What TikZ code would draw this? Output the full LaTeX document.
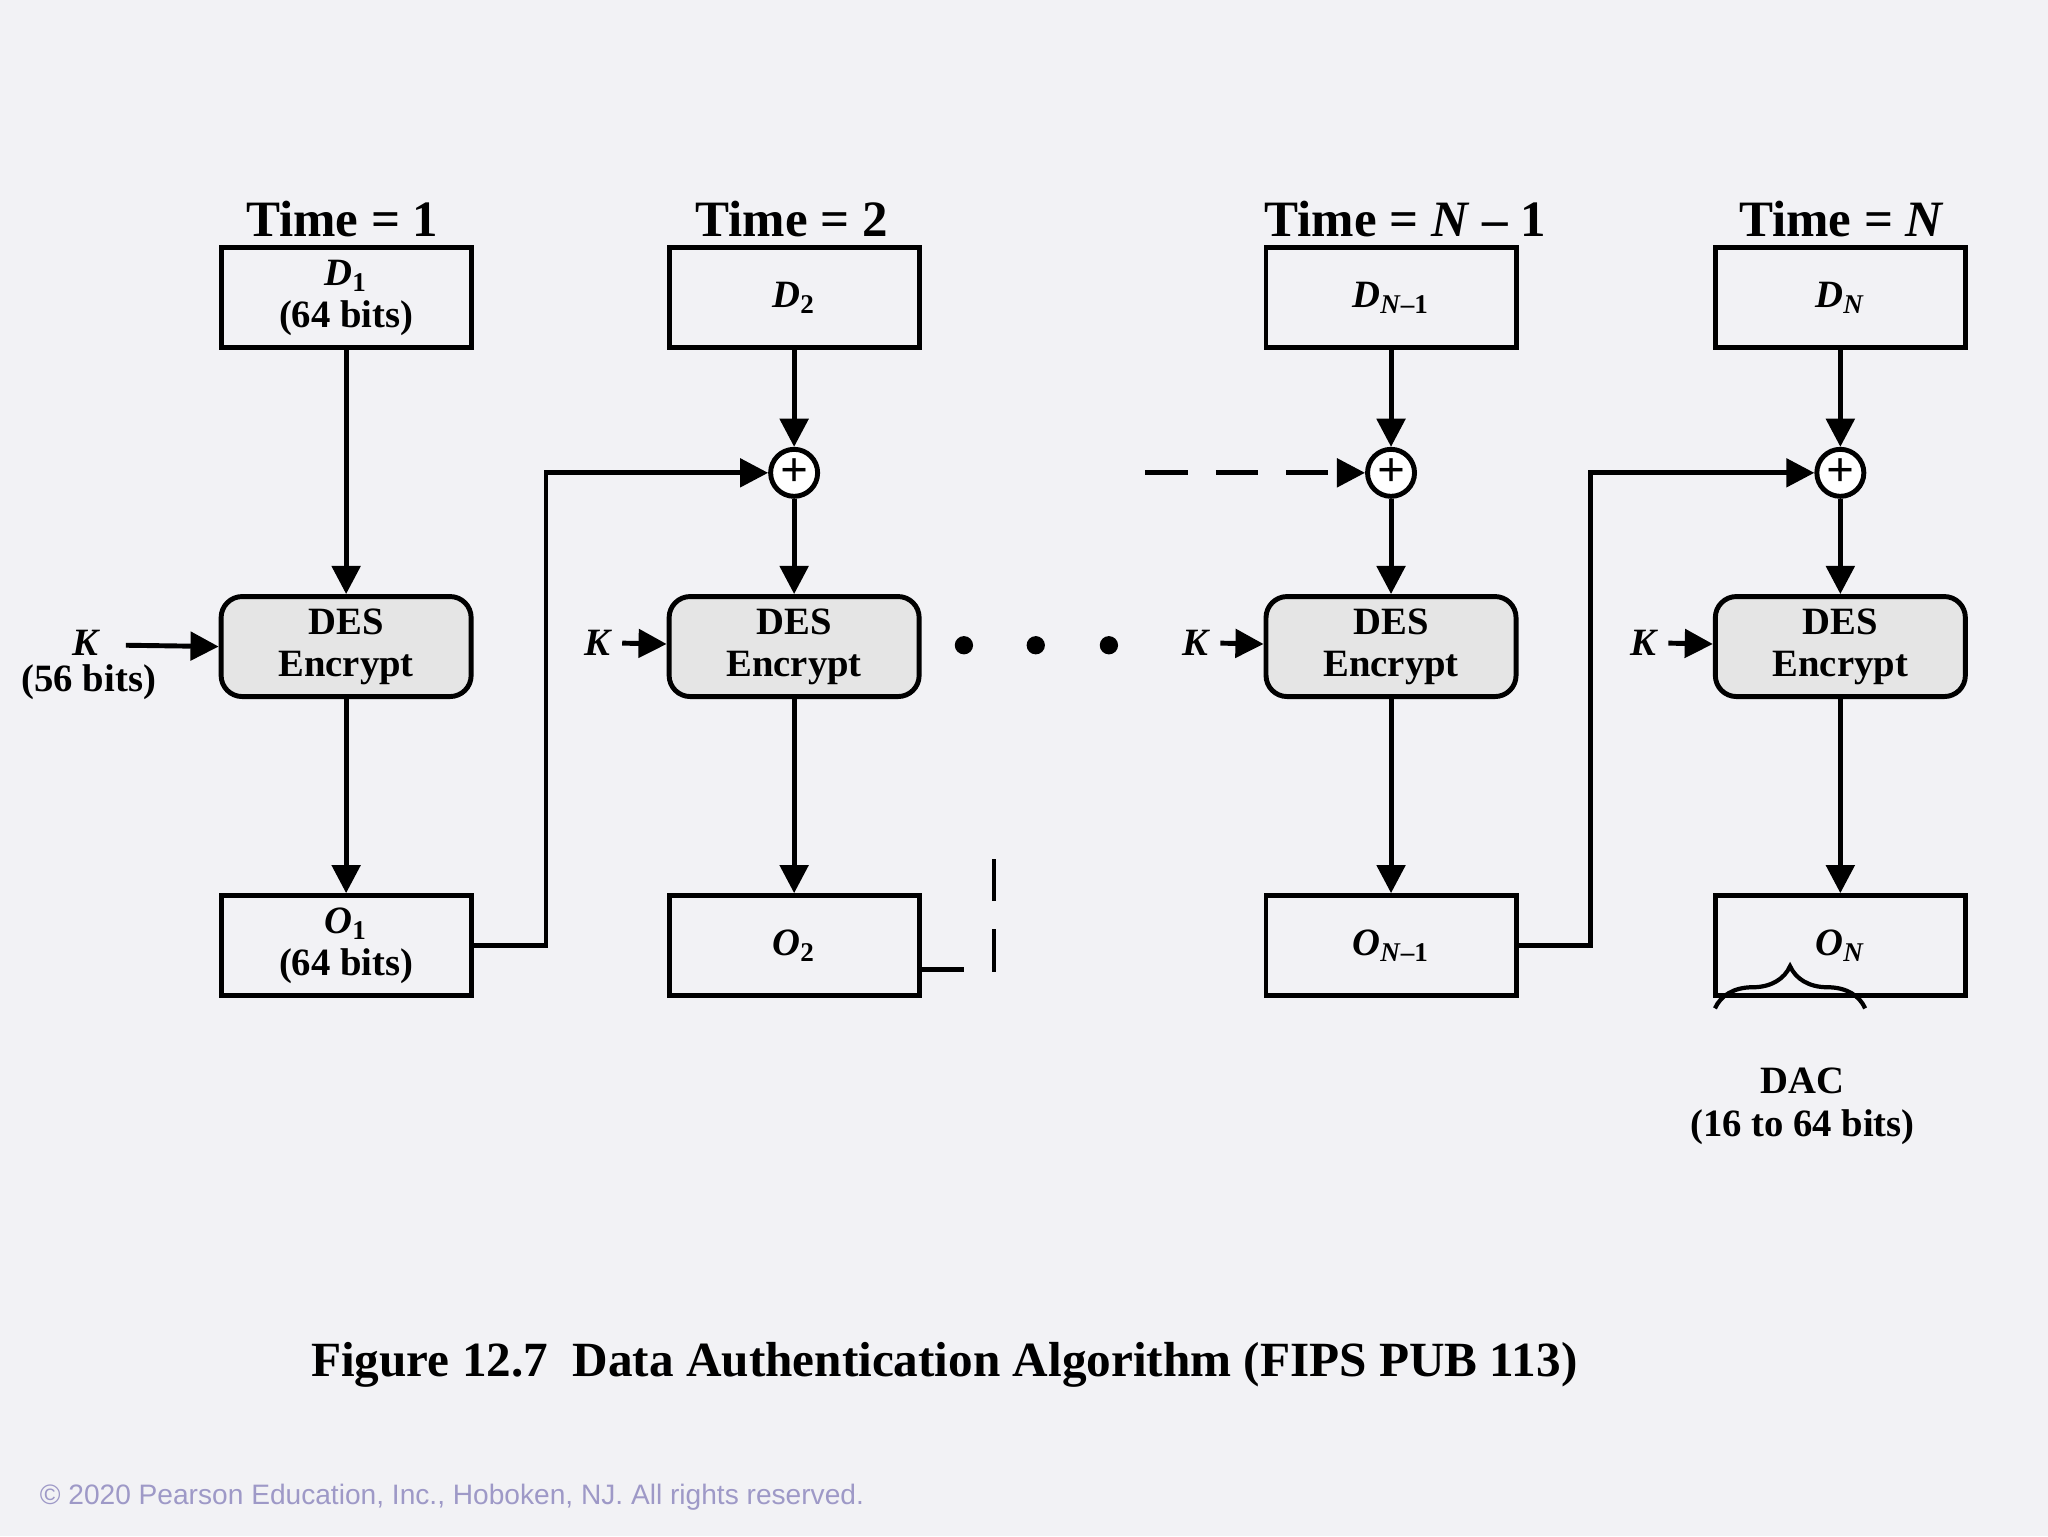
\documentclass[tikz,border=0pt]{standalone}
\usepackage{fontspec}
\setmainfont{Liberation Serif}
\newfontfamily\copyfont{Liberation Sans}
\usetikzlibrary{positioning, arrows.meta, decorations.pathreplacing}
\definecolor{paper}{rgb}{0.95, 0.95, 0.96}
\definecolor{desgray}{rgb}{0.90, 0.90, 0.90}
\definecolor{notegray}{rgb}{0.62, 0.60, 0.78}
\tikzset{
    block/.style={
        draw, line width = 1.4pt, minimum width = 2.5cm,
        minimum height = 1cm, align = center,
        font = \bfseries\fontsize{11}{12}\selectfont, inner sep = 0pt
    },
    des/.style = {block, fill = desgray, rounded corners = 6pt},
    xor/.style = {draw, circle, line width = 1.4pt, minimum size = 0.47cm, inner sep = 0pt, fill = white,
        font = \bfseries\fontsize{14}{14}\selectfont},
    title/.style = {font = \bfseries\fontsize{14.5}{15}\selectfont},
    key/.style = {font = \bfseries\itshape\fontsize{11}{12}\selectfont},
    line/.style = {-{Triangle[length=8pt,width=8pt]}, line width = 1.4pt}
}
\begin{document}
\begin{tikzpicture}[x=0.1306mm, y=-0.1306mm]

    % Background
    \fill[paper] (0,0) rectangle (1568,1176);
    \useasboundingbox (0,0) rectangle (1568,1176);

    % Titles
    \node[title] at (262,168) {Time = 1};
    \node[title] at (606,168) {Time = 2};
    \node[title] at (1076,168) {Time = \textit{N} -- 1};
    \node[title] at (1410,168) {Time = \textit{N}};

    % Input blocks
    \node[block] (d1) at (265,228) {\textit{D}\textsubscript{1}\\(64 bits)};
    \node[block] (d2) at (608,228) {\textit{D}\textsubscript{2}};
    \node[block] (dn1) at (1065,228) {\textit{D}\textsubscript{\textit{N}--1}};
    \node[block] (dn) at (1409,228) {\textit{D}\textsubscript{\textit{N}}};

    % XOR circles
    \node[xor] (x2) at (608,362) {+};
    \node[xor] (xn1) at (1065,362) {+};
    \node[xor] (xn) at (1409,362) {+};

    % DES blocks
    \node[des] (des1) at (265,495) {DES\\Encrypt};
    \node[des] (des2) at (608,495) {DES\\Encrypt};
    \node[des] (desn1) at (1065,495) {DES\\Encrypt};
    \node[des] (desn) at (1409,495) {DES\\Encrypt};

    % Output blocks
    \node[block] (o1) at (265,724) {\textit{O}\textsubscript{1}\\(64 bits)};
    \node[block] (o2) at (608,724) {\textit{O}\textsubscript{2}};
    \node[block] (on1) at (1065,724) {\textit{O}\textsubscript{\textit{N}--1}};
    \node[block] (on) at (1409,724) {\textit{O}\textsubscript{\textit{N}}};

    % Keys
    \node[key] (k1) at (65,492) {K};
    \node[font=\bfseries\fontsize{11}{12}\selectfont] at (68,522) {(56 bits)};
    \node[key] (k2) at (457,492) {K};
    \node[key] (kn1) at (915,492) {K};
    \node[key] (kn) at (1258,492) {K};
    \draw[line] (k1.east) ++(12,2) -- (des1.west);
    \draw[line] (k2) -- (des2);
    \draw[line] (kn1) -- (desn1);
    \draw[line] (kn) -- (desn);

    % Vertical flow
    \draw[line] (d1) -- (des1);
    \draw[line] (des1) -- (o1);
    \draw[line] (d2) -- (x2);
    \draw[line] (x2) -- (des2);
    \draw[line] (des2) -- (o2);
    \draw[line] (dn1) -- (xn1);
    \draw[line] (xn1) -- (desn1);
    \draw[line] (desn1) -- (on1);
    \draw[line] (dn) -- (xn);
    \draw[line] (xn) -- (desn);
    \draw[line] (desn) -- (on);

    % Chaining
    \draw[line] (o1.east) -| (418,362) -- (x2.west);
    \draw[line] (on1.east) -| (1218,362) -- (xn.west);
    \coordinate (c2) at (761,650);
    \coordinate (cn) at (877,362);
    \draw[line width=1.4pt, dash pattern=on 12pt off 8pt] (o2.east |- 0,742) -| (c2);
    \draw[line, dash pattern=on 12pt off 8pt] (cn) -- (xn1.west);

    % Dots
    \foreach \x in {738,793,849}
        \fill (\x,494) circle (7);

    % DAC brace
    \draw[line width=1.2pt, decorate, decoration={brace, amplitude=12pt}] (1313,772) -- (1428,772);
    \node[font=\bfseries\fontsize{11}{12}\selectfont, align=center] at (1380,847) {DAC\\(16 to 64 bits)};

    % Caption
    \node[font=\bfseries\fontsize{14}{15}\selectfont] at (723,1045) {Figure 12.7\ \ Data Authentication Algorithm (FIPS PUB 113)};
    \node[font=\copyfont\fontsize{8}{9}\selectfont, text=notegray] at (346,1146) {© 2020 Pearson Education, Inc., Hoboken, NJ. All rights reserved.};

\end{tikzpicture}
\end{document}
